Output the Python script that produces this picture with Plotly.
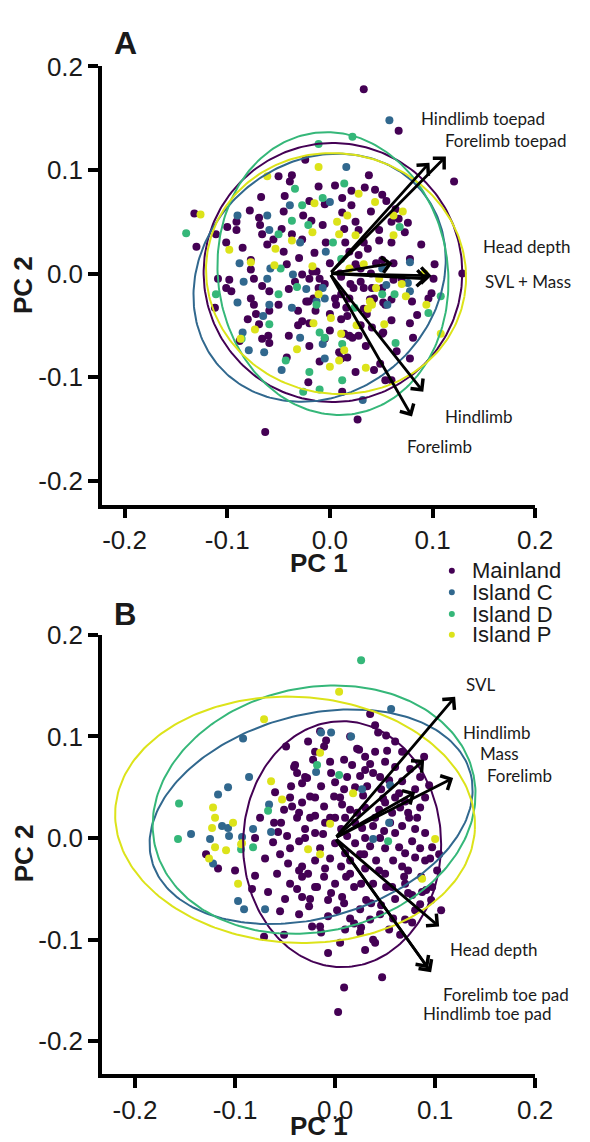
import numpy as np
import plotly.graph_objects as go

# ---------------- DATA ----------------
groups = ["Mainland", "Island C", "Island D", "Island P"]
colors = ["#440154", "#31688E", "#35B779", "#DCE31A"]
tick_vals = [-0.2, -0.1, 0.0, 0.1, 0.2]
tick_text = ["-0.2", "-0.1", "0.0", "0.1", "0.2"]

# Panel A scores (PC1, PC2)
A_mainland = [
    (0.033,0.178),(0.067,0.138),(0.121,0.089),(-0.024,0.110),(0.038,0.095),(-0.050,0.094),(-0.037,0.095),
    (-0.039,0.089),(-0.011,0.084),(0.034,0.083),(0.044,0.081),(0.051,0.076),(0.021,0.080),(0.012,0.073),
    (-0.067,0.074),(-0.005,0.067),(-0.044,0.075),(-0.078,0.061),(0.055,0.070),(0.064,0.062),(0.067,0.053),
    (0.076,0.049),(0.073,0.040),(-0.132,0.058),(-0.130,0.026),(-0.111,0.038),(-0.091,0.050),(-0.091,0.042),
    (-0.101,0.030),(-0.069,0.054),(-0.068,0.047),(-0.066,0.038),(-0.055,0.033),(-0.061,0.028),(-0.077,0.013),
    (-0.077,0.004),(-0.098,-0.006),(-0.096,-0.017),(-0.047,0.043),(-0.026,0.056),(-0.018,0.051),(-0.037,0.038),
    (-0.027,0.033),(-0.007,0.047),(0.012,0.059),(0.021,0.066),(0.028,0.042),(-0.004,0.030),(0.014,0.043),
    (0.033,0.030),(0.037,0.024),(0.048,0.042),(0.048,0.032),(0.060,0.030),(0.089,0.028),(0.078,0.014),
    (0.102,0.009),(0.129,0.000),(0.101,-0.005),(0.070,-0.005),(0.096,-0.024),(0.080,-0.027),(-0.045,0.021),
    (-0.042,0.009),(-0.074,-0.005),(-0.066,-0.012),(-0.059,-0.017),(-0.109,-0.005),(-0.101,-0.014),
    (-0.077,-0.024),(-0.034,-0.008),(-0.027,-0.001),(-0.020,-0.005),(-0.013,0.002),(-0.010,-0.005),
    (-0.016,-0.024),(0.005,-0.024),(0.011,-0.003),(0.025,0.009),(0.030,-0.008),(0.033,-0.014),(0.041,-0.014),
    (0.051,-0.014),(0.062,-0.006),(0.019,-0.024),(0.041,-0.027),(0.054,-0.030),(0.019,0.021),(0.028,0.018),
    (0.051,0.013),(0.062,0.010),(-0.074,-0.030),(-0.072,-0.039),(-0.059,-0.036),(-0.112,-0.033),
    (-0.031,-0.036),(-0.023,-0.027),(0.000,-0.039),(0.016,-0.033),(0.033,-0.034),(0.043,-0.024),(0.060,-0.025),
    (0.099,-0.019),(-0.080,-0.044),(-0.069,-0.049),(-0.027,-0.046),(-0.031,-0.050),(-0.020,-0.048),
    (0.011,-0.044),(0.017,-0.041),(0.078,-0.048),(-0.088,-0.065),(-0.066,-0.063),(-0.059,-0.067),
    (-0.005,-0.063),(0.014,-0.058),(0.019,-0.060),(0.022,-0.062),(0.028,-0.060),(0.051,-0.058),(0.081,-0.062),
    (-0.020,-0.070),(0.009,-0.076),(0.011,-0.082),(0.017,-0.081),(-0.042,-0.081),(0.078,-0.082),(0.043,-0.093),
    (0.049,-0.087),(-0.021,-0.105),(0.054,-0.103),(0.060,-0.103),(0.012,-0.114),(0.027,-0.141),(-0.063,-0.153),
    (-0.017,0.002),(-0.011,-0.014),(-0.021,-0.027),(-0.014,-0.036),(0.006,-0.030),(0.011,-0.020),(0.023,-0.014),
    (0.039,-0.025),(0.052,-0.028),(0.036,-0.039),(0.041,-0.052),(0.052,-0.057),
    (0.000,0.010),(0.010,0.000),(-0.005,-0.010),(0.020,-0.010),(0.030,0.005),(0.040,0.000),(0.045,0.010),
    (0.015,0.030),(0.025,0.050),(-0.015,0.020),(-0.030,0.015),(-0.040,-0.015),(-0.050,-0.030),(-0.045,0.060),
    (-0.020,0.070),(0.005,0.085),(0.040,0.060),(0.060,0.050),(-0.085,0.025),(-0.100,0.045),(-0.060,-0.060),
    (-0.040,-0.060),(0.030,-0.050),(0.060,-0.045),(0.065,-0.075),(0.035,-0.070),(0.000,-0.055),(-0.010,-0.085),
    (0.025,-0.095),(0.085,-0.040),
]
A_island_c = [
    (0.058,0.148),(0.016,0.103),(0.000,0.069),(-0.039,0.066),(-0.090,0.056),(-0.061,0.056),(-0.059,0.042),
    (-0.088,0.010),(-0.090,-0.028),(-0.004,0.021),(0.078,0.011),(0.076,-0.009),(0.078,-0.017),(-0.058,0.005),
    (-0.061,-0.005),(-0.036,-0.001),(-0.023,-0.015),(-0.007,-0.014),(-0.005,-0.024),(0.051,0.005),
    (-0.059,-0.030),(-0.037,-0.033),(-0.013,-0.027),(0.056,-0.030),(-0.029,-0.062),(-0.007,-0.068),
    (-0.079,-0.074),(-0.064,-0.076),(-0.005,-0.082),(-0.047,-0.093),(0.032,-0.122),(-0.085,-0.057),
    (-0.084,-0.008),(-0.065,-0.041),(-0.029,0.030),(0.055,-0.011),
]
A_island_d = [
    (0.022,0.132),(-0.011,0.125),(-0.034,0.082),(0.014,0.087),(-0.007,0.073),(-0.027,0.066),(0.068,0.045),
    (-0.140,0.039),(-0.050,0.038),(-0.037,0.051),(-0.021,0.047),(0.003,0.030),(0.108,-0.022),(-0.048,0.005),
    (-0.050,-0.020),(-0.032,-0.013),(0.011,0.014),(0.051,-0.020),(-0.111,-0.020),(-0.013,-0.030),(0.024,-0.033),
    (0.096,-0.038),(-0.059,-0.049),(-0.086,-0.063),(-0.010,-0.057),(0.064,-0.067),(0.012,-0.068),(-0.043,-0.084),
    (-0.020,-0.095),(0.012,-0.103),(-0.010,-0.112),(-0.026,-0.114),(0.063,-0.020),(-0.005,-0.062),
]
A_island_p = [
    (-0.011,0.103),(-0.061,0.094),(0.028,0.077),(-0.015,0.068),(0.044,0.069),(0.071,0.060),(0.062,0.056),
    (0.062,0.037),(-0.126,0.057),(-0.098,0.023),(-0.053,0.024),(-0.077,0.011),(-0.017,0.040),(-0.037,0.032),
    (0.007,0.050),(0.017,0.056),(0.025,0.037),(0.009,0.038),(0.092,0.000),(0.070,-0.010),(0.094,-0.030),
    (0.019,0.005),(0.048,-0.005),(0.041,-0.030),(0.033,0.009),(-0.011,-0.020),(0.037,-0.034),(0.039,-0.027),
    (0.074,-0.022),(-0.016,-0.048),(0.001,-0.043),(0.053,-0.049),(0.011,-0.058),(0.108,-0.058),(-0.032,-0.073),
    (0.014,-0.074),(0.009,-0.084),(0.000,-0.090),(0.035,-0.091),(-0.073,-0.054),(-0.087,-0.063),(-0.054,0.008),
    (0.026,-0.050),(0.045,-0.014),(-0.017,0.007),
]

# Panel B scores (PC1, PC2)
B_mainland = [
    (0.035,0.122),(0.040,0.111),(-0.015,0.105),(-0.049,0.090),(-0.027,0.095),(0.024,0.087),(0.051,0.101),
    (0.067,0.085),(0.089,0.080),(-0.041,0.070),(-0.038,0.064),(-0.044,0.051),(-0.051,0.028),(-0.043,0.031),
    (-0.054,0.015),(-0.061,0.015),(-0.038,0.020),(-0.057,0.006),(-0.048,0.002),(0.043,0.104),(-0.009,0.096),
    (-0.011,0.090),(0.022,0.088),(0.052,0.086),(-0.022,0.077),(-0.040,0.072),(0.009,0.077),(0.017,0.072),
    (0.035,0.073),(0.038,0.064),(-0.004,0.064),(0.025,0.061),(0.030,0.067),(-0.028,0.059),(-0.033,0.054),
    (0.054,0.057),(0.067,0.056),(0.080,0.048),(0.094,0.052),(-0.014,0.051),(0.009,0.048),(0.032,0.051),
    (0.046,0.048),(-0.025,0.041),(-0.001,0.041),(0.048,0.039),(0.064,0.044),(0.070,0.036),(-0.033,0.035),
    (-0.011,0.031),(0.007,0.033),(-0.036,0.025),(-0.020,0.022),(0.022,0.025),(0.044,0.028),(0.057,0.025),
    (0.074,0.020),(0.006,0.009),(-0.030,0.009),(0.027,0.010),(0.038,0.012),(0.049,0.007),(0.067,0.012),
    (0.080,0.009),(0.097,-0.009),(0.073,0.025),(0.082,0.020),
    (-0.129,-0.016),(-0.117,-0.030),(-0.100,-0.032),(-0.067,-0.053),(-0.080,-0.037),(-0.071,-0.097),
    (-0.055,-0.072),(-0.051,-0.095),(-0.038,-0.050),(-0.036,-0.075),(-0.026,-0.067),(-0.015,-0.087),
    (-0.007,-0.113),(0.005,-0.103),(0.009,-0.147),(0.003,-0.171),(0.047,-0.137),(0.040,-0.103),(0.058,-0.079),
    (0.077,-0.083),(0.106,-0.071),(0.087,-0.053),(0.097,-0.048),(0.077,-0.056),(0.015,-0.079),(0.026,-0.088),
    (-0.007,-0.061),(-0.018,-0.048),(0.007,-0.058),(0.036,-0.064),(0.069,-0.038),(0.073,-0.032),(0.102,-0.032),
    (0.104,-0.016),(-0.058,-0.035),(-0.047,-0.025),(-0.055,-0.016),(-0.036,-0.032),(-0.033,-0.038),
    (0.011,-0.038),(0.026,-0.045),(0.044,-0.032),(0.051,-0.048),(0.015,-0.022),(0.029,-0.016),(0.058,-0.022),
    (0.080,-0.019),(-0.083,-0.050),(0.096,-0.061),(0.091,-0.051),(0.067,-0.028),(0.073,-0.054),(0.080,-0.071),
    (0.035,-0.080),(0.019,-0.084),(0.002,-0.071),(-0.033,-0.058),(-0.014,-0.093),(0.025,-0.093),(0.054,-0.090),
    (0.070,-0.080),(-0.036,-0.003),(-0.020,-0.022),(-0.027,-0.035),(-0.011,-0.038),(0.006,-0.028),
    (0.025,-0.016),(0.041,-0.022),(0.064,-0.009),(0.019,-0.048),(0.038,-0.045),(0.057,-0.048),(-0.004,-0.054),
    (-0.020,-0.048),(-0.033,-0.028),(0.031,-0.061),(0.046,-0.066),(0.009,-0.064),(-0.007,-0.077),
    (-0.023,-0.087),(0.038,-0.100),(0.086,-0.038),(0.090,-0.022),(0.077,-0.003),
    (-0.062,-0.004),(-0.045,-0.010),(-0.030,0.000),(-0.012,0.004),(0.000,-0.005),(0.012,0.002),(-0.005,0.020),
    (0.015,0.028),(-0.020,0.040),(0.000,0.055),(0.020,0.050),(0.045,0.060),(0.060,0.070),(0.030,0.080),
    (-0.030,0.060),(-0.060,0.045),(-0.075,0.020),(-0.080,0.000),(-0.070,-0.020),
    (0.010,0.020),(0.020,0.015),(0.030,0.030),(0.040,0.020),(0.050,0.035),(0.060,0.040),(0.065,0.030),
    (0.085,0.030),(0.090,0.040),(0.055,0.015),(0.030,0.000),(0.045,0.000),(0.060,0.005),(0.020,-0.005),
    (0.010,-0.015),(0.035,-0.008),(0.050,-0.010),(0.070,-0.015),(0.085,-0.010),(0.090,0.005),(0.000,0.020),
    (-0.010,0.015),(-0.020,0.005),(-0.015,-0.010),(-0.005,-0.020),(0.015,-0.035),(0.030,-0.030),(0.050,-0.035),
    (0.060,-0.060),(0.045,-0.075),(0.025,-0.070),(0.000,-0.045),(-0.010,-0.030),(-0.045,-0.045),(-0.050,-0.060),
    (-0.025,-0.060),(0.010,-0.090),(0.030,-0.110),(0.065,-0.095),(0.085,-0.065),(0.012,0.060),(0.028,0.042),
    (0.040,0.085),(0.060,0.095),(0.075,0.068),(0.015,0.100),(-0.020,0.085),(-0.005,0.075),(0.050,0.075),
    (0.085,0.060),(-0.045,0.040),(-0.025,0.020),(0.005,0.040),(0.070,-0.045),(0.095,-0.020),
]
B_island_c = [
    (0.056,0.127),(-0.092,0.098),(-0.004,0.104),(0.016,0.100),(-0.014,0.104),(-0.086,0.060),(-0.107,0.050),
    (-0.117,0.043),(-0.113,0.012),(-0.107,0.010),(-0.144,0.004),(-0.125,-0.001),(-0.106,0.002),(-0.066,0.033),
    (-0.064,0.006),(-0.093,0.001),(0.055,0.052),(-0.019,0.065),(0.027,0.048),(0.054,0.015),(0.038,-0.001),
    (-0.082,0.009),(-0.122,-0.025),(-0.097,-0.062),(-0.091,-0.070),(-0.070,-0.070),
]
B_island_d = [
    (0.026,0.175),(-0.156,0.034),(-0.157,-0.001),(-0.067,0.027),(-0.018,0.072),(0.004,0.062),(0.053,-0.003),
    (-0.094,-0.011),(-0.082,-0.009),
]
B_island_p = [
    (0.004,0.144),(-0.071,0.117),(-0.015,0.084),(-0.122,0.030),(-0.120,0.020),(-0.123,0.010),(-0.102,0.015),
    (-0.120,-0.009),(-0.109,-0.012),(-0.093,-0.005),(-0.064,0.056),(-0.053,0.038),(-0.005,0.014),(0.018,0.044),
    (0.100,-0.001),(-0.126,-0.020),(-0.097,-0.045),(0.087,-0.040),(-0.027,-0.011),(-0.015,-0.016),(-0.094,-0.006),
]

# Confidence ellipses: (centre x, centre y, semi-axis a, semi-axis b, rotation deg)
A_ellipses = [(0.003, 0.001, 0.126, 0.125, 0), (-0.010, -0.004, 0.130, 0.112, 40),
              (0.003, 0.000, 0.112, 0.137, 8), (0.006, 0.000, 0.127, 0.116, -10)]
B_ellipses = [(0.007, -0.006, 0.099, 0.121, 0), (-0.024, 0.021, 0.165, 0.100, 15),
              (-0.021, 0.028, 0.163, 0.120, 12), (-0.040, 0.018, 0.180, 0.121, -3)]

# Loadings (arrow tips) and their labels
A_loadings = {"Hindlimb toepad": (0.097, 0.107), "Forelimb toepad": (0.113, 0.113),
              "Head depth": (0.061, 0.010), "SVL": (0.099, -0.002), "Mass": (0.095, -0.005),
              "Hindlimb": (0.091, -0.114), "Forelimb": (0.080, -0.138)}
A_labels = [("Hindlimb toepad", 0.087, 0.150), ("Forelimb toepad", 0.110, 0.128),
            ("Head depth", 0.147, 0.026), ("SVL + Mass", 0.149, -0.008),
            ("Hindlimb", 0.110, -0.138), ("Forelimb", 0.073, -0.167)]
B_loadings = {"SVL": (0.120, 0.139), "Hindlimb": (0.089, 0.077), "Mass": (0.080, 0.045),
              "Forelimb": (0.118, 0.059), "Head depth": (0.104, -0.087),
              "Forelimb toe pad": (0.096, -0.132), "Hindlimb toe pad": (0.093, -0.128)}
B_labels = [("SVL", 0.129, 0.151), ("Hindlimb", 0.126, 0.104), ("Mass", 0.143, 0.083),
            ("Forelimb", 0.150, 0.062), ("Head depth", 0.113, -0.110),
            ("Forelimb toe pad", 0.106, -0.154), ("Hindlimb toe pad", 0.086, -0.173)]

# ---------------- FIGURE ----------------
# The page body has an 8px default margin, so the figure is sized to fill the rest of the window
OFF = 8
W, H = 590 - OFF, 1142 - OFF
fig = go.Figure()

panels = [
    ("x", "y", [A_mainland, A_island_c, A_island_d, A_island_p], A_ellipses, A_loadings, A_labels),
    ("x2", "y2", [B_mainland, B_island_c, B_island_d, B_island_p], B_ellipses, B_loadings, B_labels),
]

annotations = []
for xa, ya, pts, ells, loads, labs in panels:
    for g, col, p in zip(groups, colors, pts):
        fig.add_trace(go.Scatter(x=[q[0] for q in p], y=[q[1] for q in p], mode="markers",
                                 marker=dict(size=8, color=col, line=dict(width=0)),
                                 xaxis=xa, yaxis=ya, showlegend=False, name=g))
    t = np.linspace(0, 2 * np.pi, 240)
    for col, (cx, cy, a, b, ang) in zip(colors, ells):
        th = np.deg2rad(ang)
        ex = cx + a * np.cos(t) * np.cos(th) - b * np.sin(t) * np.sin(th)
        ey = cy + a * np.cos(t) * np.sin(th) + b * np.sin(t) * np.cos(th)
        fig.add_trace(go.Scatter(x=ex, y=ey, mode="lines", line=dict(color=col, width=2),
                                 xaxis=xa, yaxis=ya, showlegend=False, hoverinfo="skip"))
    for name, (tx, ty) in loads.items():
        annotations.append(dict(x=tx, y=ty, ax=0, ay=0, xref=xa, yref=ya, axref=xa, ayref=ya,
                                text="", showarrow=True, arrowhead=4, arrowsize=1.1,
                                arrowwidth=2.8, arrowcolor="black", standoff=0, startstandoff=0))
    for txt, lx, ly in labs:
        annotations.append(dict(x=lx, y=ly, xref=xa, yref=ya, text=txt, showarrow=False,
                                xanchor="left", yanchor="middle",
                                font=dict(family="Lato", size=17, color="#1a1a1a")))

def px(x):
    return (x - OFF) / W

def py(y):
    return 1 - (y - OFF) / H

titles = [("PC 1", 329, 555, 0, 26, "middle"), ("PC 2", 24, 274, -90, 26, "middle"),
          ("PC 1", 329, 1142, 0, 26, "bottom"), ("PC 2", 24, 850, -90, 26, "middle"),
          ("A", 129, 28, 0, 32, "middle"), ("B", 129, 607, 0, 31, "middle")]
for txt, x, y, ang, size, yanc in titles:
    annotations.append(dict(x=px(x), y=py(y), xref="paper", yref="paper", text=f"<b>{txt}</b>",
                            showarrow=False, textangle=ang, xanchor="center", yanchor=yanc,
                            borderpad=0,
                            font=dict(family="Liberation Sans", size=size, color="#1a1a1a")))

# legend (drawn manually)
shapes = []
for i, (g, col) in enumerate(zip(groups, colors)):
    yy = [563, 585, 607, 628][i]
    shapes.append(dict(type="circle", xref="paper", yref="paper", xsizemode="pixel", ysizemode="pixel",
                       xanchor=px(466), yanchor=py(yy), x0=-3, x1=3, y0=-3, y1=3,
                       fillcolor=col, line=dict(width=0)))
    annotations.append(dict(x=px(486), y=py(yy), xref="paper", yref="paper", text=g, showarrow=False,
                            xanchor="left", yanchor="middle", borderpad=0,
                            font=dict(family="Liberation Sans", size=22, color="#1a1a1a")))

axis_style = dict(showline=True, linecolor="black", linewidth=3.5, ticks="outside", ticklen=10,
                  tickwidth=3.5, tickcolor="black", showgrid=False, zeroline=False,
                  tickvals=tick_vals, ticktext=tick_text,
                  tickfont=dict(family="Liberation Sans", size=26, color="#1a1a1a"))
xdom = [px(105), px(552)]
fig.update_layout(
    width=W, height=H, margin=dict(l=0, r=0, t=0, b=0),
    paper_bgcolor="white", plot_bgcolor="white", showlegend=False,
    xaxis=dict(domain=xdom, range=[-0.222, 0.2], anchor="y", **axis_style),
    yaxis=dict(domain=[py(496), py(52)], range=[-0.223, 0.2], anchor="x", **axis_style),
    xaxis2=dict(domain=xdom, range=[-0.233, 0.2], anchor="y2", **axis_style),
    yaxis2=dict(domain=[py(1073), py(628)], range=[-0.232, 0.2], anchor="x2", **axis_style),
    annotations=annotations, shapes=shapes,
)

fig.write_html("out.html")
